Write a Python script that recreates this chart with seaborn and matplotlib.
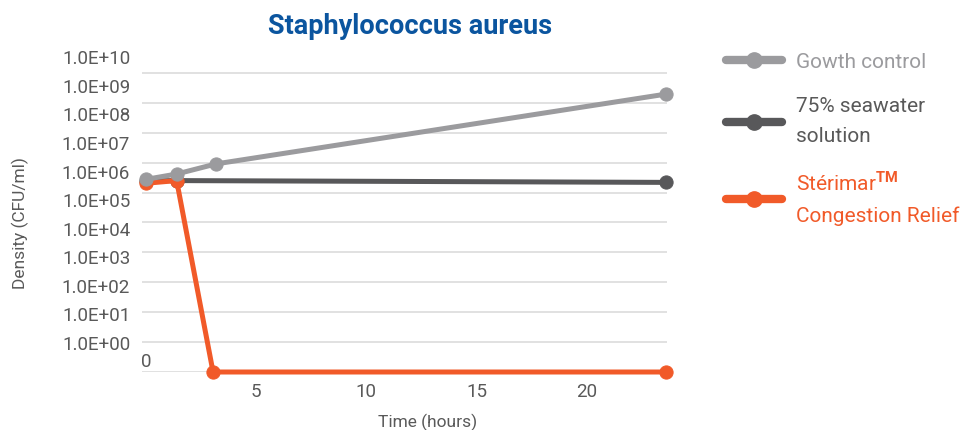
import seaborn as sns
import matplotlib.pyplot as plt
import pandas as pd
from matplotlib.lines import Line2D

# values (axis units: 0 = no growth, 1 = 1.0E+00, ... )
hours_control = [0, 1.4, 3.2, 23.56]
control = [6.44, 6.62, 6.96, 9.29]
hours_seawater = [0, 1.4, 23.56]
seawater = [6.39, 6.40, 6.34]
hours_sterimar = [0, 1.4, 3.05, 23.56]
sterimar = [6.31, 6.40, 0, 0]

ytick_labels = ['1.0E+00', '1.0E+01', '1.0E+02', '1.0E+03', '1.0E+04', '1.0E+05',
                '1.0E+06', '1.0E+07', '1.0E+08', '1.0E+09', '1.0E+10']
xtick_values = [5, 10, 15, 20]

names = ['Gowth control', '75% seawater\nsolution', 'Stérimar$^{\\mathbf{TM}}$\nCongestion Relief']
colors = ['#9b9b9e', '#58585a', '#f15a29']

sns.set_theme(style='white')
plt.rcParams['font.family'] = ['Roboto', 'DejaVu Sans']
plt.rcParams['mathtext.fontset'] = 'custom'
plt.rcParams['mathtext.bf'] = 'Roboto:bold'
txt = '#595959'

fig = plt.figure(figsize=(9.65, 4.3), dpi=100)
ax = fig.add_axes([142/965, 1-372/430, 525/965, 323/430])

df_c = pd.DataFrame({'t': hours_control, 'v': control})
df_s = pd.DataFrame({'t': hours_seawater, 'v': seawater})
df_r = pd.DataFrame({'t': hours_sterimar, 'v': sterimar})

kw = dict(x='t', y='v', marker='o', linewidth=3.6, markersize=9.5, ax=ax, clip_on=False)
sns.lineplot(data=df_s, color=colors[1], markeredgecolor=colors[1], zorder=3, **kw)
sns.lineplot(data=df_r, color=colors[2], markeredgecolor=colors[2], zorder=4, **kw)
sns.lineplot(data=df_c, color=colors[0], markeredgecolor=colors[0], zorder=5, **kw)

ax.set_xlim(-0.17, 23.62)
ax.set_ylim(0, 10.8)
for s in ax.spines.values():
    s.set_visible(False)

# grid on whole decades, labels sit slightly off like the original
ax.set_yticks(range(0, 11), minor=True)
ax.grid(which='minor', axis='y', color='#d9d9d9', linewidth=1.1)
ax.grid(which='major', visible=False)
ax.set_yticks([0.97 + 0.955 * k for k in range(len(ytick_labels))], ytick_labels)
ax.set_xticks(xtick_values, [str(v) for v in xtick_values])
ax.tick_params(axis='both', which='both', length=0, colors=txt, labelsize=13.5)
ax.tick_params(axis='y', pad=8.5)
ax.tick_params(axis='x', pad=8)
ax.text(0, 0.33, '0', ha='center', va='center', color=txt, fontsize=13.5)

ax.set_xlabel('Time (hours)', color=txt, fontsize=12.5)
ax.set_ylabel('Density (CFU/ml)', color=txt, fontsize=12.5)
ax.xaxis.set_label_coords(0.543, -0.128)
ax.yaxis.set_label_coords(-0.216, 0.462)

fig.text(410/965, 1-26/430, 'Staphylococcus aureus', ha='center', va='center',
         fontsize=19.5, fontweight='bold', color='#0b559f')

handles = [Line2D([], [], color=c, lw=6, marker='o', markersize=11) for c in colors]
leg = fig.legend(handles, names, loc='upper left', bbox_to_anchor=(707/965, 1-34/430),
                 frameon=False, fontsize=15, handlelength=2.7, handletextpad=0.68,
                 labelspacing=1.2)
for t, c in zip(leg.get_texts(), colors):
    t.set_color(c if c != colors[1] else txt)
    t.set_linespacing(1.74)

fig.savefig('out.png', dpi=100)
